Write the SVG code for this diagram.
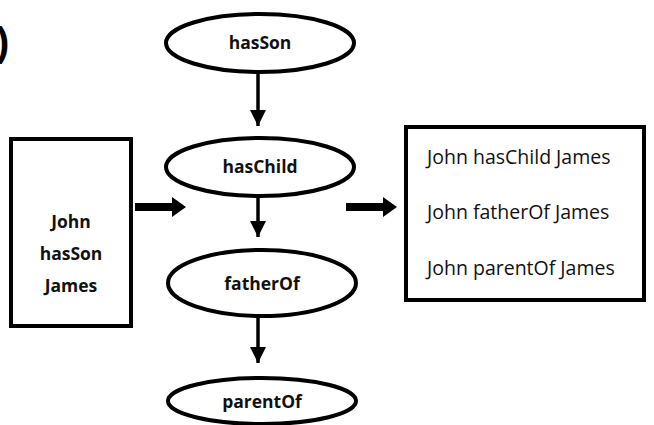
<svg xmlns="http://www.w3.org/2000/svg" width="654" height="425" viewBox="0 0 654 425">
<defs>
<style>
.node{fill:#fff;stroke:#000;stroke-width:4}
.lbl{font-family:"Open Sans","Liberation Sans",sans-serif;font-weight:bold;font-size:17.5px;fill:#111;text-anchor:middle}
.res{font-family:"Open Sans","Liberation Sans",sans-serif;font-size:19.5px;fill:#111}
.edge{stroke:#000;stroke-width:3.5;fill:none}
.blk{fill:#000}
</style>
<marker id="ah" markerUnits="userSpaceOnUse" markerWidth="16" markerHeight="16" viewBox="0 0 16 16" refX="16" refY="8" orient="auto">
<path d="M0,0 L16,8 L0,16 Z" fill="#000"/>
</marker>
</defs>
<text x="-4" y="56" font-family="Liberation Sans,sans-serif" font-weight="bold" font-size="40" fill="#000">)</text>
<g id="connectors">
<line class="edge" x1="258" y1="74" x2="258" y2="126" marker-end="url(#ah)"/>
<line class="edge" x1="258" y1="198" x2="258" y2="237" marker-end="url(#ah)"/>
<line class="edge" x1="258" y1="317" x2="258" y2="363" marker-end="url(#ah)"/>
<path class="blk" d="M135,203 L172,203 L172,197 L186,207 L172,217 L172,211 L135,211 Z"/>
<path class="blk" d="M346,203 L383,203 L383,197 L397,207 L383,217 L383,211 L346,211 Z"/>
</g>
<g id="hasSon">
<ellipse class="node" cx="260" cy="43" rx="94" ry="29"/>
<text class="lbl" x="260" y="49">hasSon</text>
</g>
<g id="hasChild">
<ellipse class="node" cx="260" cy="167" rx="94" ry="29"/>
<text class="lbl" x="260" y="173">hasChild</text>
</g>
<g id="fatherOf">
<ellipse class="node" cx="262" cy="283" rx="94" ry="33"/>
<text class="lbl" x="262" y="290">fatherOf</text>
</g>
<g id="parentOf">
<ellipse class="node" cx="262" cy="401" rx="94" ry="23"/>
<text class="lbl" x="262" y="408">parentOf</text>
</g>
<g id="input">
<rect class="node" x="11" y="139" width="120" height="187"/>
<text class="lbl" x="71" y="228">John</text>
<text class="lbl" x="71" y="260">hasSon</text>
<text class="lbl" x="71" y="292">James</text>
</g>
<g id="output">
<rect class="node" x="406" y="127" width="238" height="173"/>
<text class="res" x="427" y="164">John hasChild James</text>
<text class="res" x="427" y="219">John fatherOf James</text>
<text class="res" x="427" y="275">John parentOf James</text>
</g>
</svg>
